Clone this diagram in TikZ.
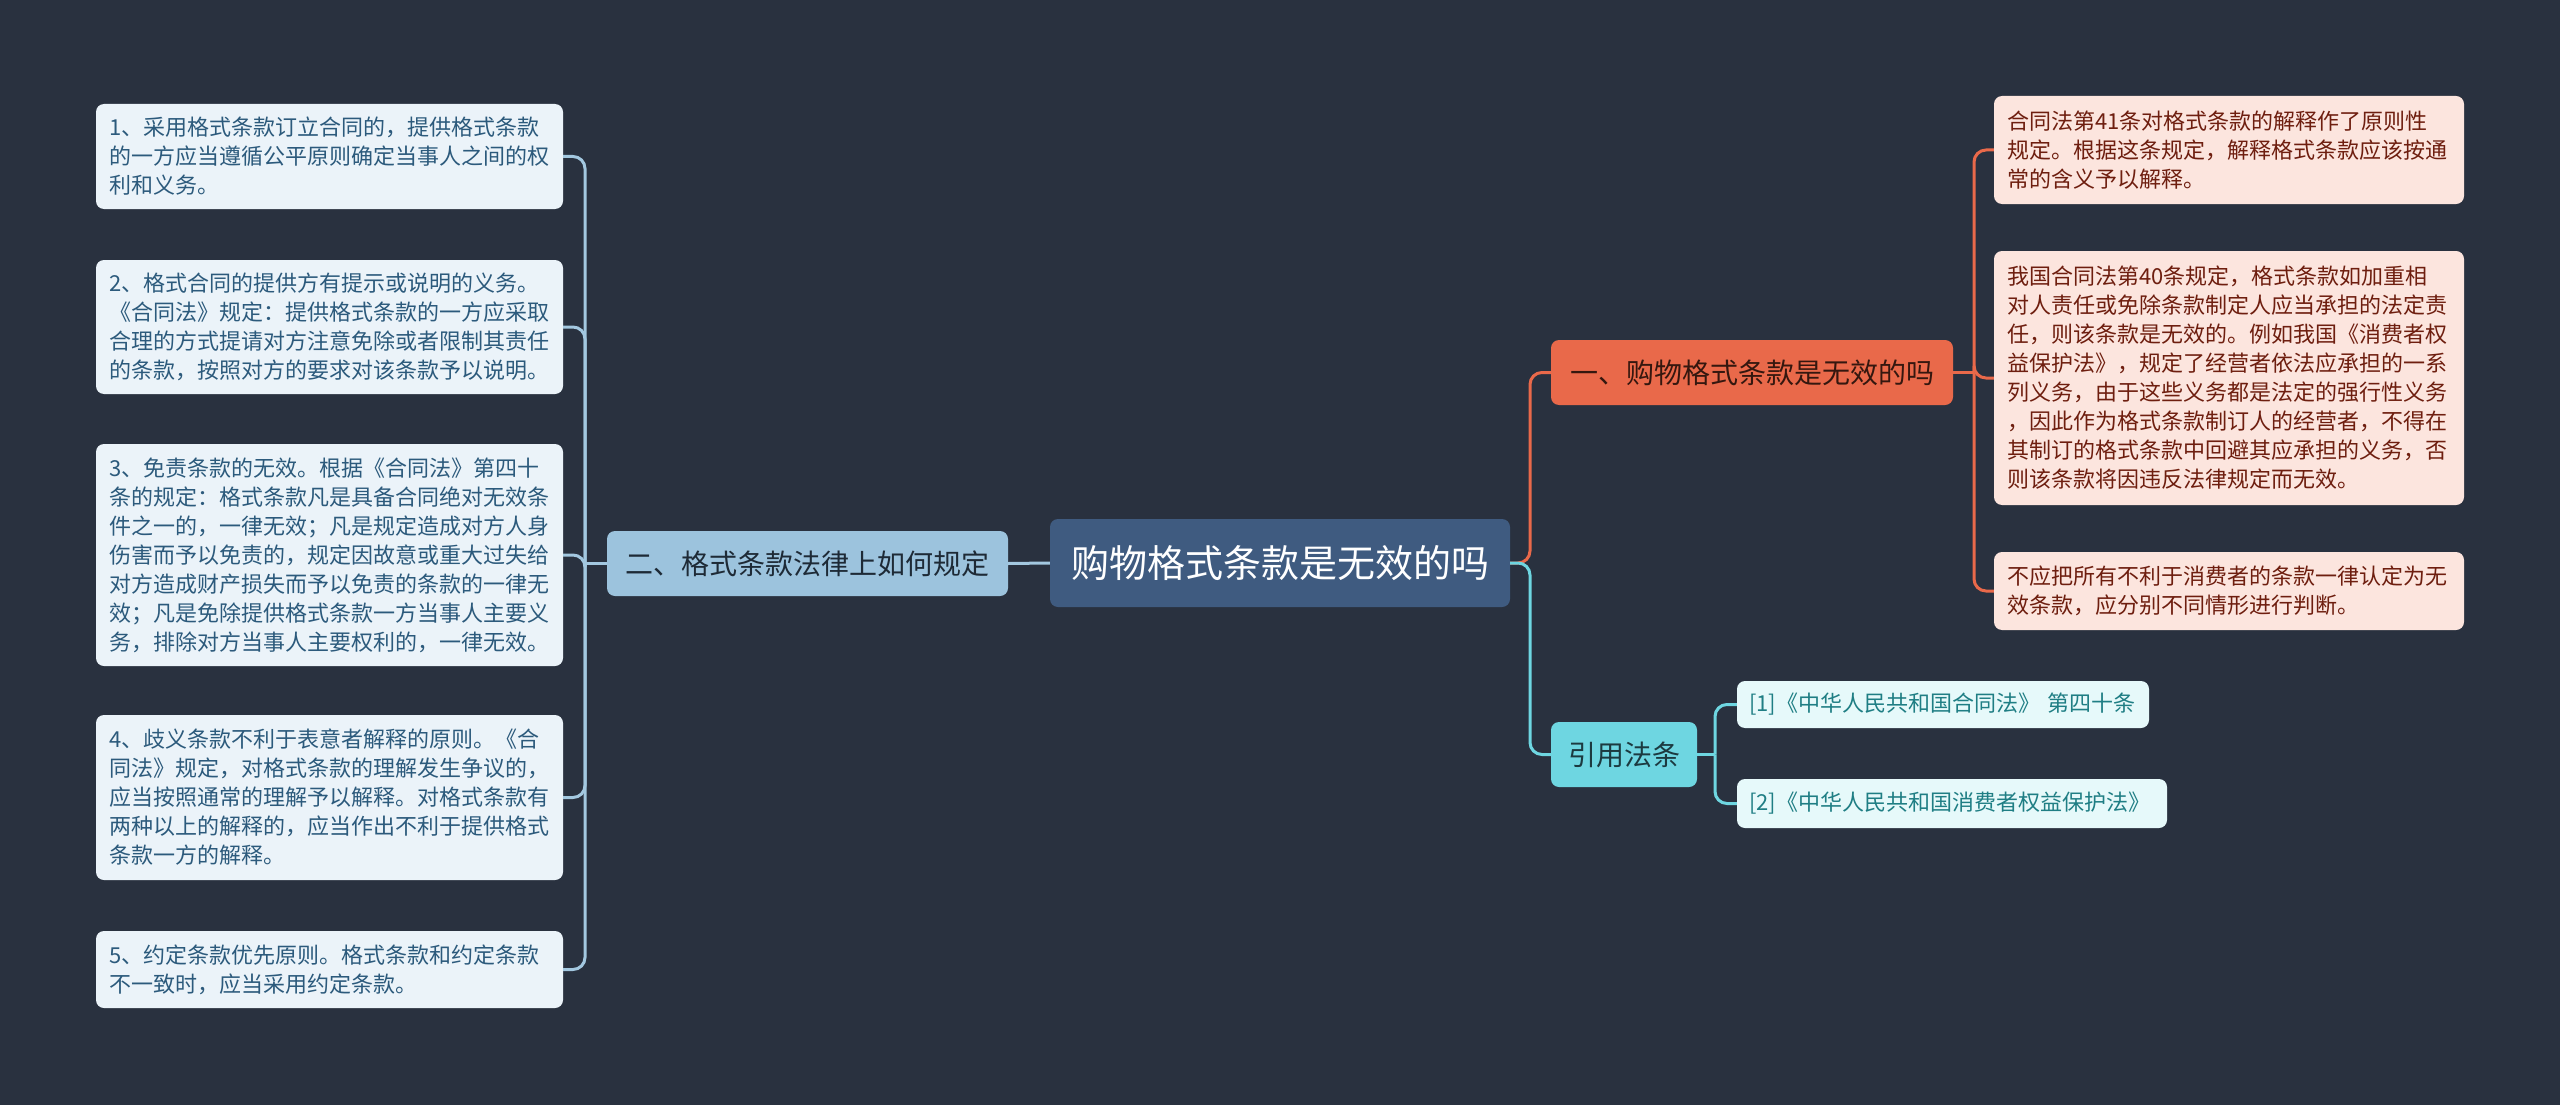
\documentclass[tikz,border=0pt]{standalone}
\usepackage{fontspec}
\newfontfamily\cjk{Noto Sans CJK SC}
\definecolor{bg}{HTML}{29313F}
\definecolor{lfill}{HTML}{EBF3F9}
\definecolor{ltext}{HTML}{2C5A7C}
\definecolor{lline}{HTML}{A3C8E0}
\definecolor{erfill}{HTML}{9CC3DD}
\definecolor{ertext}{HTML}{1E2A36}
\definecolor{rootfill}{HTML}{3F5B80}
\definecolor{orange}{HTML}{E9694A}
\definecolor{yitext}{HTML}{35170F}
\definecolor{rfill}{HTML}{FCE5DE}
\definecolor{rtext}{HTML}{6E1E0F}
\definecolor{cyanl}{HTML}{6ED6E1}
\definecolor{yytext}{HTML}{1C3A40}
\definecolor{cfill}{HTML}{E6F9FA}
\definecolor{ctext}{HTML}{1F7E84}
\tikzset{
  box/.style={rectangle, rounded corners=8pt, inner xsep=13pt, inner ysep=0pt, align=left, anchor=center},
  lbox/.style={box, fill=lfill, text=ltext, text width=441pt, font=\cjk\fontsize{22pt}{29pt}\selectfont},
  rbox/.style={box, fill=rfill, text=rtext, text width=444pt, font=\cjk\fontsize{22pt}{29pt}\selectfont},
  cbox/.style={box, fill=cfill, text=ctext, inner xsep=12pt, font=\cjk\fontsize{22pt}{29pt}\selectfont},
  mid/.style={rectangle, rounded corners=8pt, inner sep=0pt, align=center, font=\cjk\fontsize{28pt}{34pt}\selectfont},
  lconn/.style={draw=lline, line width=3pt, rounded corners=12pt},
  oconn/.style={draw=orange, line width=3pt, rounded corners=12pt},
  cconn/.style={draw=cyanl, line width=3pt, rounded corners=12pt},
}
\begin{document}
\begin{tikzpicture}[x=1pt,y=-1pt]
\useasboundingbox (0,0) rectangle (2560,1105);
\fill[bg] (0,0) rectangle (2560,1105);

% left boxes
\node[lbox, minimum height=105pt] (b1) at (329.5,156.5) {1、采用格式条款订立合同的，提供格式条款\\的一方应当遵循公平原则确定当事人之间的权\\利和义务。};
\node[lbox, minimum height=134pt] (b2) at (329.5,327) {2、格式合同的提供方有提示或说明的义务。\\《合同法》规定：提供格式条款的一方应采取\\合理的方式提请对方注意免除或者限制其责任\\的条款，按照对方的要求对该条款予以说明。};
\node[lbox, minimum height=222pt] (b3) at (329.5,555) {3、免责条款的无效。根据《合同法》第四十\\条的规定：格式条款凡是具备合同绝对无效条\\件之一的，一律无效；凡是规定造成对方人身\\伤害而予以免责的，规定因故意或重大过失给\\对方造成财产损失而予以免责的条款的一律无\\效；凡是免除提供格式条款一方当事人主要义\\务，排除对方当事人主要权利的，一律无效。};
\node[lbox, minimum height=165pt] (b4) at (329.5,797.5) {4、歧义条款不利于表意者解释的原则。《合\\同法》规定，对格式条款的理解发生争议的，\\应当按照通常的理解予以解释。对格式条款有\\两种以上的解释的，应当作出不利于提供格式\\条款一方的解释。};
\node[lbox, minimum height=77pt] (b5) at (329.5,969.5) {5、约定条款优先原则。格式条款和约定条款\\不一致时，应当采用约定条款。};

% middle nodes
\node[mid, fill=erfill, text=ertext, minimum width=401pt, minimum height=65pt] (er) at (807.5,563.5) {二、格式条款法律上如何规定};
\node[mid, fill=rootfill, text=white, minimum width=460pt, minimum height=88pt, font=\cjk\fontsize{38pt}{44pt}\selectfont] (root) at (1280,563) {购物格式条款是无效的吗};
\node[mid, fill=orange, text=yitext, minimum width=402pt, minimum height=65pt] (yi) at (1752,372.5) {一、购物格式条款是无效的吗};
\node[mid, fill=cyanl, text=yytext, minimum width=146pt, minimum height=65pt] (yy) at (1624,754.5) {引用法条};

% right boxes
\node[rbox, minimum height=108pt] (r1) at (2229,150) {合同法第41条对格式条款的解释作了原则性\\规定。根据这条规定，解释格式条款应该按通\\常的含义予以解释。};
\node[rbox, minimum height=254pt] (r2) at (2229,378) {我国合同法第40条规定，格式条款如加重相\\对人责任或免除条款制定人应当承担的法定责\\任，则该条款是无效的。例如我国《消费者权\\益保护法》，规定了经营者依法应承担的一系\\列义务，由于这些义务都是法定的强行性义务\\，因此作为格式条款制订人的经营者，不得在\\其制订的格式条款中回避其应承担的义务，否\\则该条款将因违反法律规定而无效。};
\node[rbox, minimum height=78pt] (r3) at (2229,591) {不应把所有不利于消费者的条款一律认定为无\\效条款，应分别不同情形进行判断。};

% citations
\node[cbox, text width=388pt, minimum height=47pt] (c1) at (1943,704.5) {[1]《中华人民共和国合同法》 第四十条};
\node[cbox, text width=406pt, minimum height=49pt] (c2) at (1952,803.5) {[2]《中华人民共和国消费者权益保护法》};

% junctions
\coordinate (jl) at (585,563.5);
\coordinate (jr) at (1530,563);
\coordinate (jy) at (1974,372.5);
\coordinate (jc) at (1715,754.5);

% left connectors
\draw[lconn] (root.west) -- (er.east);
\draw[lconn] (er.west) -- (jl);
\foreach \b in {b1,b2,b3,b4,b5} { \draw[lconn] (jl) |- (\b.east); }

% right connectors
\draw[oconn] (root.east) -- (jr) |- (yi.west);
\draw[cconn] (root.east) -- (jr) |- (yy.west);
\draw[oconn] (yi.east) -- (jy);
\foreach \r in {r1,r2,r3} { \draw[oconn] (jy) |- (\r.west); }
\draw[cconn] (yy.east) -- (jc);
\foreach \c in {c1,c2} { \draw[cconn] (jc) |- (\c.west); }
\end{tikzpicture}
\end{document}
